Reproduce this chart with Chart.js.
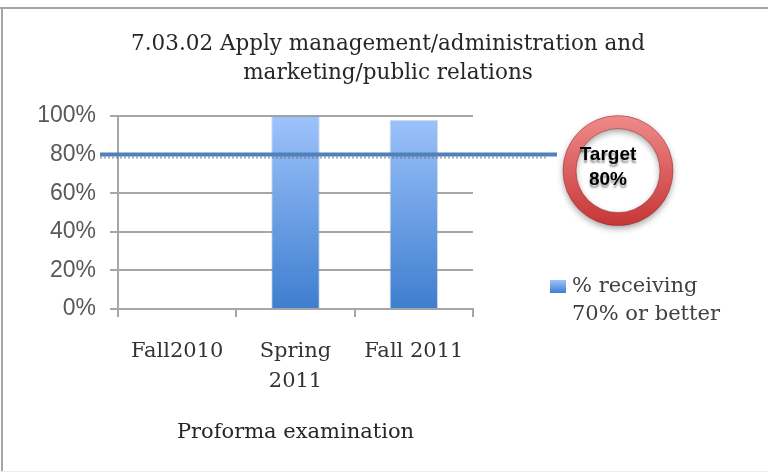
<!DOCTYPE html>
<html>
<head>
<meta charset="utf-8">
<script src="https://cdn.jsdelivr.net/npm/chart.js@4.4.0/dist/chart.umd.min.js"></script>
<style>
html, body { margin: 0; padding: 0; background: #fff; }
#wrap { width: 768px; height: 473px; }
</style>
</head>
<body>
<div id="wrap"><canvas id="exam-chart" width="768" height="473"></canvas></div>
<script>
// chart data
const titleLines = ['7.03.02 Apply management/administration and', 'marketing/public relations'];
const semesters = ['Fall2010', ['Spring', '2011'], 'Fall 2011'];
const passRates = [0, 1.00, 0.98];
const seriesLabel = ['% receiving', '70% or better'];
const axisTitle = 'Proforma examination';
const yTicks = [0, 0.2, 0.4, 0.6, 0.8, 1.0];
const target = 0.8;
const targetLabel = 'Target';

const SERIF = '"DejaVu Serif", serif';
const SANS = '"Liberation Sans", Arial, sans-serif';

function barGradient(ctx, area) {
	const g = ctx.createLinearGradient(0, area.bottom, 0, area.top);
	g.addColorStop(0, '#3e7ecf');
	g.addColorStop(1, '#9dc3fb');
	return g;
}

// white page with the grey frame
const frame = {
	id: 'frame',
	beforeDraw(chart) {
		const ctx = chart.ctx;
		ctx.save();
		ctx.fillStyle = '#fff';
		ctx.fillRect(0, 0, chart.width, chart.height);
		ctx.fillStyle = '#a6a6a6';
		ctx.fillRect(0, 7, chart.width, 2);
		ctx.fillRect(1, 7, 2, 464);
		ctx.fillStyle = '#ececec';
		ctx.fillRect(0, 471, chart.width, 1);
		ctx.restore();
	}
};

// two line title over the whole page
const titleText = {
	id: 'titleText',
	afterDraw(chart) {
		const ctx = chart.ctx;
		ctx.save();
		ctx.font = '21.5px ' + SERIF;
		ctx.fillStyle = '#262626';
		ctx.textAlign = 'center';
		ctx.textBaseline = 'middle';
		titleLines.forEach((line, i) => ctx.fillText(line, 388, 44 + i * 29));
		ctx.restore();
	}
};

// target line and the red badge
const targetLine = {
	id: 'targetLine',
	afterDatasetsDraw(chart) {
		const ctx = chart.ctx;
		const area = chart.chartArea;
		const y = chart.scales.y.getPixelForValue(target);
		const x0 = area.left - 18;
		const x1 = 557;
		ctx.save();
		// dotted shadow under the line
		ctx.strokeStyle = 'rgba(110,110,110,0.55)';
		ctx.lineWidth = 2;
		ctx.setLineDash([2, 2]);
		ctx.beginPath();
		ctx.moveTo(x0, y + 3);
		ctx.lineTo(x1 - 10, y + 3);
		ctx.stroke();
		ctx.setLineDash([]);
		ctx.strokeStyle = '#4f81bd';
		ctx.lineWidth = 4;
		ctx.beginPath();
		ctx.moveTo(x0, y);
		ctx.lineTo(x1, y);
		ctx.stroke();

		// ring
		const cx = 618, cy = y + 16, ro = 55, ri = 42;
		const g = ctx.createLinearGradient(0, cy - ro, 0, cy + ro);
		g.addColorStop(0, '#f08a8a');
		g.addColorStop(1, '#c63636');
		ctx.shadowColor = 'rgba(0,0,0,0.35)';
		ctx.shadowBlur = 6;
		ctx.shadowOffsetY = 3;
		ctx.fillStyle = g;
		ctx.beginPath();
		ctx.arc(cx, cy, ro, 0, Math.PI * 2);
		ctx.arc(cx, cy, ri, 0, Math.PI * 2, true);
		ctx.fill();
		ctx.shadowColor = 'transparent';
		ctx.strokeStyle = 'rgba(150,40,40,0.5)';
		ctx.lineWidth = 1;
		ctx.beginPath();
		ctx.arc(cx, cy, ro, 0, Math.PI * 2);
		ctx.stroke();
		ctx.beginPath();
		ctx.arc(cx, cy, ri, 0, Math.PI * 2);
		ctx.stroke();

		ctx.font = 'bold 19px ' + SANS;
		ctx.fillStyle = '#000';
		ctx.textAlign = 'center';
		ctx.textBaseline = 'middle';
		ctx.shadowColor = 'rgba(0,0,0,0.4)';
		ctx.shadowBlur = 2;
		ctx.fillText(targetLabel, cx - 10, cy - 16);
		ctx.fillText(Math.round(target * 100) + '%', cx - 10, cy + 9);
		ctx.restore();
	}
};

// legend on the right, label in two lines
const sideLegend = {
	id: 'sideLegend',
	afterDraw(chart) {
		const ctx = chart.ctx;
		ctx.save();
		const sq = { left: 551, top: 280, bottom: 293 };
		ctx.fillStyle = barGradient(ctx, sq);
		ctx.fillRect(550, 280, 16, 13);
		ctx.font = '21px ' + SERIF;
		ctx.fillStyle = '#404040';
		ctx.textBaseline = 'middle';
		seriesLabel.forEach((line, i) => ctx.fillText(line, 572, 287 + i * 28));
		ctx.restore();
	}
};

const chart = new Chart(document.getElementById('exam-chart').getContext('2d'), {
	type: 'bar',
	data: {
		labels: semesters,
		datasets: [{
			label: seriesLabel.join(' '),
			data: passRates,
			backgroundColor: (c) => {
				const area = c.chart.chartArea;
				if (!area) return '#5b8fd6';
				return barGradient(c.chart.ctx, area);
			},
			borderColor: 'rgba(120,140,170,0.3)',
			borderWidth: 1,
			categoryPercentage: 1,
			barPercentage: 0.41
		}]
	},
	options: {
		responsive: false,
		animation: false,
		devicePixelRatio: 1,
		layout: { padding: { left: 0, right: 295, top: 116, bottom: 14 } },
		plugins: {
			legend: { display: false },
			title: { display: false },
			tooltip: { enabled: false }
		},
		scales: {
			x: {
				grid: { drawOnChartArea: false, drawTicks: true, tickLength: 8, color: '#a6a6a6', lineWidth: 2, offset: true },
				border: { color: '#a6a6a6', width: 2 },
				ticks: { font: { family: SERIF, size: 21, lineHeight: 1.45 }, color: '#333', padding: 19, maxRotation: 0 },
				title: { display: true, text: axisTitle, font: { family: SERIF, size: 21 }, color: '#262626', padding: { top: 20, bottom: 14 } },
				afterFit: (scale) => { scale.height = 150; }
			},
			y: {
				min: 0,
				max: 1,
				afterBuildTicks: (scale) => { scale.ticks = yTicks.map(v => ({ value: v })); },
				grid: { color: '#a6a6a6', lineWidth: 2, tickLength: 8 },
				border: { color: '#a6a6a6', width: 2 },
				ticks: {
					font: { family: SANS, size: 23 },
					color: '#595959',
					padding: 14,
					callback: (v) => Math.round(v * 100) + '%'
				},
				afterFit: (scale) => { scale.width = 118; }
			}
		}
	},
	plugins: [frame, titleText, targetLine, sideLegend]
});
</script>
</body>
</html>
